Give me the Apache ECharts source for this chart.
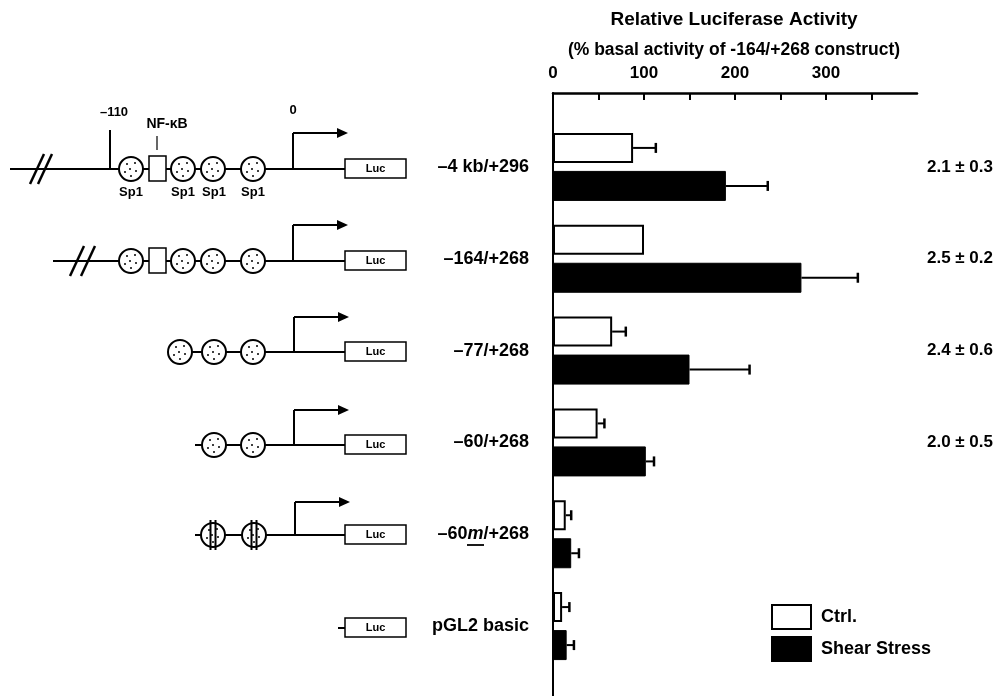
<!DOCTYPE html>
<html>
<head>
<meta charset="utf-8">
<script src="https://cdn.jsdelivr.net/npm/echarts@6/dist/echarts.min.js"></script>
<style>html,body{margin:0;padding:0;background:#fff;}#c{width:997px;height:696px;}</style>
</head>
<body>
<div id="c"></div>
<script>
// ---- data ----
const categories = ['–4 kb/+296', '–164/+268', '–77/+268', '–60/+268', '–60m/+268', 'pGL2 basic'];
const ctrlValues = [88, 100, 65, 49, 14, 10];
const ctrlErrors = [25, 0, 15, 7.5, 6, 8];
const shearValues = [190, 273, 150, 102, 20, 15];
const shearErrors = [46, 62, 66, 9, 8.5, 8];
const foldChanges = ['2.1 ± 0.3', '2.5 ± 0.2', '2.4 ± 0.6', '2.0 ± 0.5', '', ''];
const tickValues = [0, 50, 100, 150, 200, 250, 300, 350];
const tickLabels = [0, 100, 200, 300];
const seriesNames = ['Ctrl.', 'Shear Stress'];

const FONT = "'Liberation Sans', Arial, Helvetica, sans-serif";
const BAR_W = 30, BAR_GAP = 8;

const chart = echarts.init(document.getElementById('c'), null, {renderer: 'canvas'});

// ---- promoter schematics (decorative graphics) ----
const g = [];
const SW = 2;
function line(x1, y1, x2, y2, w, z) {
  g.push({type: 'line', shape: {x1, y1, x2, y2}, style: {stroke: '#000', lineWidth: w || SW}, z: z || 10});
}
function text(x, y, t, size, align) {
  g.push({type: 'text', x, y, style: {text: t, font: 'bold ' + size + 'px ' + FONT, fill: '#000', textAlign: align || 'center', textVerticalAlign: 'middle'}, z: 12});
}
function sp1(cx, cy, mutated) {
  g.push({type: 'circle', shape: {cx, cy, r: 12}, style: {fill: '#fff', stroke: '#000', lineWidth: SW}, z: 11});
  const dots = [[-4, -5], [4, -6], [-6, 3], [5, 2], [0, 7], [-1, 0]];
  dots.forEach(d => g.push({type: 'circle', shape: {cx: cx + d[0], cy: cy + d[1], r: 1}, style: {fill: '#000'}, z: 12}));
  if (mutated) {
    line(cx - 2.5, cy - 15, cx - 2.5, cy + 15, 2, 13);
    line(cx + 2.5, cy - 15, cx + 2.5, cy + 15, 2, 13);
  }
}
function nfkb(x, y) {
  g.push({type: 'rect', shape: {x: x, y: y - 13, width: 17, height: 25}, style: {fill: '#fff', stroke: '#000', lineWidth: 1.5}, z: 11});
}
function luc(y) {
  g.push({type: 'rect', shape: {x: 345, y: y - 10, width: 61, height: 19}, style: {fill: '#fff', stroke: '#000', lineWidth: 1.5}, z: 11});
  text(375.5, y - 0.5, 'Luc', 11);
}
function tss(x, y, h) {
  line(x, y, x, y - h);
  line(x, y - h, x + 46, y - h);
  g.push({type: 'polygon', shape: {points: [[x + 44, y - h - 5], [x + 55, y - h], [x + 44, y - h + 5]]}, style: {fill: '#000'}, z: 11});
}
function slashes(x, y, dx, h) {
  line(x, y + h, x + 14, y - h, 2.5);
  line(x + dx, y + h, x + dx + 14, y - h, 2.5);
}
const rows = [169, 261, 352, 445, 535, 628];
// row 1
(function (y) {
  line(10, y, 345, y);
  slashes(30, y, 8, 15);
  line(110, y, 110, y - 39);
  text(114, y - 57, '–110', 13);
  sp1(131, y); nfkb(149, y); sp1(183, y); sp1(213, y); sp1(253, y);
  line(157, y - 33, 157, y - 19, 1.2);
  text(167, y - 45, 'NF-κB', 14);
  text(131, y + 23, 'Sp1', 13); text(183, y + 23, 'Sp1', 13); text(214, y + 23, 'Sp1', 13); text(253, y + 23, 'Sp1', 13);
  tss(293, y, 36);
  text(293, y - 59, '0', 13);
  luc(y);
})(rows[0]);
// row 2
(function (y) {
  line(53, y, 345, y);
  slashes(70, y, 11, 15);
  sp1(131, y); nfkb(149, y); sp1(183, y); sp1(213, y); sp1(253, y);
  tss(293, y, 36);
  luc(y);
})(rows[1]);
// row 3
(function (y) {
  line(180, y, 345, y);
  sp1(180, y); sp1(214, y); sp1(253, y);
  tss(294, y, 35);
  luc(y);
})(rows[2]);
// row 4
(function (y) {
  line(195, y, 345, y);
  sp1(214, y); sp1(253, y);
  tss(294, y, 35);
  luc(y);
})(rows[3]);
// row 5
(function (y) {
  line(195, y, 345, y);
  sp1(213, y, true); sp1(254, y, true);
  tss(295, y, 33);
  luc(y);
})(rows[4]);
// row 6
(function (y) {
  line(338, y, 345, y);
  luc(y);
})(rows[5]);
// titles
text(734, 20, 'Relative Luciferase Activity', 19);
text(734, 50, '(% basal activity of -164/+268 construct)', 17.5);
// underline of "m" in –60m/+268
line(467, 545, 484, 545, 1.8);

function errRender(offset) {
  return function (params, api) {
    const v = api.value(0), c = api.value(1), e = api.value(2);
    if (!e) return null;
    const p0 = api.coord([v, c]);
    const p1 = api.coord([v + e, c]);
    const y = p0[1] + offset;
    return {
      type: 'group',
      children: [
        {type: 'line', shape: {x1: p0[0], y1: y, x2: p1[0], y2: y}, style: {stroke: '#000', lineWidth: 2}},
        {type: 'line', shape: {x1: p1[0], y1: y - 5, x2: p1[0], y2: y + 5}, style: {stroke: '#000', lineWidth: 2.5}}
      ]
    };
  };
}

const labelRich = {
  n: {fontSize: 18, fontWeight: 'bold', fontFamily: FONT, color: '#000'},
  m: {fontSize: 18, fontWeight: 'bold', fontStyle: 'italic', fontFamily: FONT, color: '#000'}
};

const option = {
  backgroundColor: '#fff',
  animation: false,
  textStyle: {fontFamily: FONT},
  grid: [
    {left: 553, top: 121, width: 364, height: 551, containLabel: false},
    {left: 553, top: 93, width: 10, height: 603, containLabel: false}
  ],
  xAxis: [
    {
      gridIndex: 0, type: 'value', position: 'top', offset: 28, min: 0, max: 400,
      axisLine: {show: true, onZero: false, lineStyle: {color: '#000', width: 2.5}},
      axisTick: {show: true, inside: true, length: 7, customValues: tickValues, lineStyle: {color: '#000', width: 2}},
      axisLabel: {show: true, customValues: tickLabels, margin: 11, fontSize: 17, fontWeight: 'bold', color: '#000', fontFamily: FONT},
      splitLine: {show: false}
    },
    {gridIndex: 1, type: 'value', show: false}
  ],
  yAxis: [
    {
      gridIndex: 0, type: 'category', inverse: true, data: categories,
      axisLine: {show: false}, axisTick: {show: false},
      axisLabel: {
        margin: 24, fontSize: 18, fontWeight: 'bold', color: '#000', fontFamily: FONT,
        formatter: function (v) {
          if (v.indexOf('m/') >= 0) {
            const parts = v.split('m/');
            return '{n|' + parts[0] + '}{m|m}{n|/' + parts[1] + '}';
          }
          return '{n|' + v + '}';
        },
        rich: labelRich
      }
    },
    {
      gridIndex: 0, type: 'category', inverse: true, data: categories, position: 'right',
      axisLine: {show: false}, axisTick: {show: false},
      axisLabel: {
        margin: 76, align: 'right', fontSize: 17, fontWeight: 'bold', color: '#000', fontFamily: FONT,
        formatter: function (v, i) { return foldChanges[i]; }
      }
    },
    {
      gridIndex: 1, type: 'value', min: 0, max: 1,
      axisLine: {show: true, lineStyle: {color: '#000', width: 2}},
      axisTick: {show: false}, axisLabel: {show: false}, splitLine: {show: false}
    }
  ],
  legend: {
    data: seriesNames,
    orient: 'vertical', left: 766, top: 599,
    itemWidth: 39, itemHeight: 24, itemGap: 6, icon: 'rect',
    textStyle: {fontSize: 18, fontWeight: 'bold', color: '#000', fontFamily: FONT, padding: [0, 0, 0, 5]}
  },
  graphic: {elements: g},
  series: [
    {
      name: seriesNames[0], type: 'bar', xAxisIndex: 0, yAxisIndex: 0,
      data: ctrlValues, barWidth: BAR_W, barGap: (BAR_GAP / BAR_W * 100) + '%',
      itemStyle: {color: '#fff', borderColor: '#000', borderWidth: 2}
    },
    {
      name: seriesNames[1], type: 'bar', xAxisIndex: 0, yAxisIndex: 0,
      data: shearValues, barWidth: BAR_W,
      itemStyle: {color: '#000', borderColor: '#000', borderWidth: 1}
    },
    {
      name: 'errCtrl', type: 'custom', xAxisIndex: 0, yAxisIndex: 0, z: 5,
      renderItem: errRender(-(BAR_W + BAR_GAP) / 2),
      data: ctrlValues.map((v, i) => [v, i, ctrlErrors[i]]),
      encode: {x: 0, y: 1}
    },
    {
      name: 'errShear', type: 'custom', xAxisIndex: 0, yAxisIndex: 0, z: 5,
      renderItem: errRender((BAR_W + BAR_GAP) / 2),
      data: shearValues.map((v, i) => [v, i, shearErrors[i]]),
      encode: {x: 0, y: 1}
    }
  ]
};
chart.setOption(option);
</script>
</body>
</html>
